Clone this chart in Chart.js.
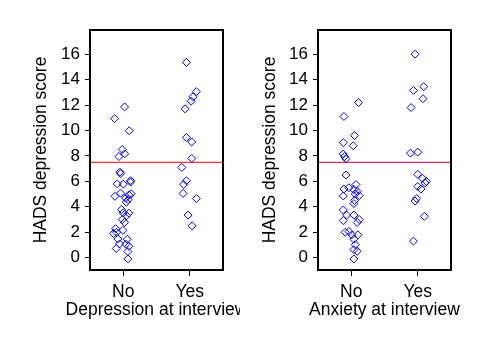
<!DOCTYPE html>
<html><head><meta charset="utf-8">
<script src="https://cdn.jsdelivr.net/npm/chart.js@4/dist/chart.umd.min.js"></script>
<style>
html,body{margin:0;padding:0;background:#fff;}
#wrap{position:relative;width:480px;height:352px;overflow:hidden;}
canvas{position:absolute;top:0;}
</style></head>
<body><div id="wrap">
<canvas id="c1" width="240" height="352" style="left:0;width:240px;height:352px"></canvas>
<canvas id="c2" width="240" height="352" style="left:240px;width:240px;height:352px"></canvas>
</div>
<script>
// Category labels and tick labels
const groupLabels = ['No', 'Yes'];
const yTickValues = [0, 2, 4, 6, 8, 10, 12, 14, 16];
const cutoff = 7.5;

// Panel 1: Depression at interview (jittered x position, HADS score)
const depNoX = [1.02,0.87,1.09,0.985,1.02,0.935,0.95,0.96,1.11,0.91,1.0,1.11,0.875,0.96,1.035,1.085,1.12,1.045,0.975,1.0,1.085,0.985,1.02,0.885,0.855,0.995,0.92,1.06,0.945,0.895,1.085,1.07,1.07,0.9,1.04,1.05,1.075];
const depNoY = [11.85,10.93,9.98,8.5,8.16,7.95,6.72,6.6,6.05,5.8,5.78,5.95,4.82,5.07,4.68,4.94,5.03,4.36,3.78,3.52,3.5,3.0,2.77,2.28,1.9,2.15,1.47,1.45,1.08,0.72,0.9,0.48,-0.1,2.0,1.05,3.3,4.55];
const depYesX = [1.95,2.10,2.05,2.02,1.93,1.95,2.03,2.03,1.88,1.95,1.91,1.90,2.10,1.975,2.035];
const depYesY = [15.35,13.05,12.65,12.3,11.7,9.45,9.1,7.8,7.1,6.05,5.75,5.05,4.65,3.35,2.5];

// Panel 2: Anxiety at interview
const anxNoX = [1.11,0.89,1.05,0.88,1.03,0.88,0.90,0.92,0.92,0.89,0.965,1.07,1.04,1.09,1.06,1.12,1.05,1.04,0.88,0.88,0.93,1.04,0.88,1.12,1.09,0.91,0.965,1.01,1.10,1.04,1.06,1.04,1.09,1.04];
const anxNoY = [12.2,11.1,9.6,9.05,8.8,8.15,7.95,7.78,6.5,5.4,5.5,5.75,5.35,5.2,5.0,4.88,4.5,4.25,4.85,3.75,3.35,3.35,2.92,3.0,2.77,2.0,2.06,1.8,1.8,1.45,1.02,0.63,0.5,-0.1];
const anxYesX = [1.96,1.935,2.09,2.08,1.90,1.89,2.0,2.0,2.07,2.13,2.11,2.0,2.05,1.985,1.96,2.10,1.935];
const anxYesY = [16.0,13.15,13.45,12.5,11.8,8.22,8.3,6.55,6.25,6.0,5.88,5.6,5.4,4.65,4.45,3.25,1.3];

const FONT = "'Liberation Sans', Arial, sans-serif";

const boxPlugin = {
  id: 'box',
  afterDraw(chart, args, opts) {
    const a = chart.chartArea, ctx = chart.ctx;
    ctx.save();
    ctx.strokeStyle = '#000';
    ctx.lineWidth = 2;
    ctx.strokeRect(a.left, a.top, a.right - a.left, a.bottom - a.top);
    // x-axis title drawn without width compression (clips at canvas edge like the reference)
    ctx.fillStyle = '#000';
    ctx.font = '17.5px ' + FONT;
    ctx.textAlign = 'center';
    ctx.textBaseline = 'alphabetic';
    ctx.fillText(opts.text, (a.left + a.right) / 2, a.bottom + 44.5);
    ctx.restore();
  }
};

function pts(xs, ys) { return xs.map((x, i) => ({x: x, y: ys[i]})); }

function makeChart(id, noX, noY, yesX, yesY, xTitle, yAxisWidth, rightPad, lineColor, yTitlePad) {
  return new Chart(document.getElementById(id), {
    type: 'scatter',
    data: {
      datasets: [
        {data: pts(noX, noY), pointStyle: 'rectRot', pointRadius: 4, borderColor: '#0000ff', backgroundColor: 'rgba(0,0,0,0)', borderWidth: 1},
        {data: pts(yesX, yesY), pointStyle: 'rectRot', pointRadius: 4, borderColor: '#0000ff', backgroundColor: 'rgba(0,0,0,0)', borderWidth: 1},
        {type: 'line', data: [{x: 0.5, y: cutoff}, {x: 2.5, y: cutoff}], borderColor: lineColor, borderWidth: 1, pointRadius: 0, fill: false}
      ]
    },
    options: {
      responsive: false, animation: false, devicePixelRatio: 1,
      layout: {padding: {top: 30, right: rightPad, left: 0, bottom: 0}},
      plugins: {legend: {display: false}, tooltip: {enabled: false}, box: {text: xTitle}},
      scales: {
        x: {
          type: 'linear', min: 0.5, max: 2.5,
          afterBuildTicks: s => { s.ticks = [{value: 1}, {value: 2}]; },
          afterFit: s => { s.height = 82; },
          ticks: {color: '#000', font: {family: FONT, size: 17.5}, padding: 6, autoSkip: false, maxRotation: 0,
                  callback: v => groupLabels[v - 1]},
          grid: {display: true, drawOnChartArea: false, drawTicks: true, tickLength: 6, color: '#000', lineWidth: 1},
          border: {display: false},
          title: {display: false}
        },
        y: {
          min: -0.97, max: 17.9,
          afterBuildTicks: s => { s.ticks = yTickValues.map(v => ({value: v})); },
          afterFit: s => { s.width = yAxisWidth; },
          ticks: {color: '#000', font: {family: FONT, size: 17}, padding: 5, autoSkip: false},
          grid: {display: true, drawOnChartArea: false, drawTicks: true, tickLength: 5, color: '#000', lineWidth: 1},
          border: {display: false},
          title: {display: true, text: 'HADS depression score', color: '#000', font: {family: FONT, size: 17.5}, padding: {top: yTitlePad, bottom: 0}}
        }
      }
    },
    plugins: [boxPlugin]
  });
}

makeChart('c1', depNoX, depNoY, depYesX, depYesY, 'Depression at interview', 90, 17, '#ff0000', 31);
makeChart('c2', anxNoX, anxNoY, anxYesX, anxYesY, 'Anxiety at interview', 78, 29, '#b00030', 20);
</script>
</body></html>
